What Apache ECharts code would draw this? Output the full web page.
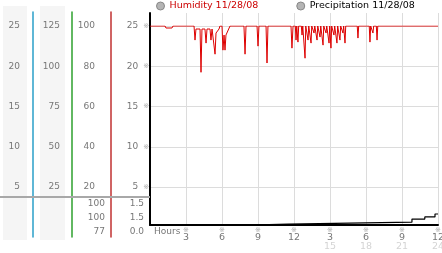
<!DOCTYPE html>
<html><head><meta charset="utf-8">
<script src="https://cdn.jsdelivr.net/npm/echarts@6/dist/echarts.min.js"></script>
<style>html,body{margin:0;padding:0;background:#fff}#c{width:442px;height:253px}</style>
</head><body><div id="c"></div>
<script>
// ---- data ----
const humHours = [0,1.25,1.33,1.83,1.92,3.67,3.75,3.83,4.17,4.25,4.33,4.58,4.67,4.75,5.0,5.08,5.17,5.33,5.42,5.5,5.75,5.83,6.0,6.08,6.17,6.25,6.33,6.67,7.83,7.92,8.0,8.92,9.0,9.08,9.67,9.75,9.83,11.75,11.83,11.92,
  12.11,12.17,12.23, 12.27,12.33,12.39, 12.61,12.67,12.73, 12.86,12.92,12.98, 13.11,13.17,13.23, 13.36,13.42,13.48, 13.61,13.67,13.73, 13.86,13.92,13.98, 14.11,14.17,14.23, 14.36,14.42,14.48, 14.61,14.67,14.73, 14.86,14.92,14.98, 15.02,15.08,15.14, 15.27,15.33,15.39, 15.52,15.58,15.64, 15.77,15.83,15.89, 16.02,16.08,16.14, 16.19,16.25,16.31,
  17.27,17.33,17.39, 18.27,18.33,18.39, 18.52,18.58,18.64, 18.86,18.92,18.98, 24];
const humValues = [100,100,99,99,100,100,93,98.5,98.5,77,98.5,98.5,91.5,98.5,98.5,93,98.5,98.5,86,96.5,98.5,100,100,88,95.5,88,95.5,100,100,86,100,100,90,100,100,81.6,100,100,89,100,
  100,93,100, 100,92,100, 100,95.5,100, 100,84,100, 100,93,100, 100,91.5,100, 100,96.5,100, 100,93,100, 100,94.5,100, 100,90.5,100, 100,96.5,100, 100,91.5,100, 100,89,100, 100,95.5,100, 100,91.5,100, 100,93,100, 100,96.5,100, 100,91.5,100,
  100,94,100, 100,92,100, 100,96.5,100, 100,93,100, 100];
const precHours  = [0, 8.33, 11.5, 21.83, 22.9, 23.75, 24];
const precValues = [0, 0.05, 0.15, 0.32, 0.43, 0.59, 0.59];
const xTicks = [3,6,9,12,15,18,21,24];
const xTop   = ['3','6','9','12','3','6','9','12'];
const xSub   = [' ',' ',' ',' ','15','18','21','24'];
const humSummary  = ['77','100','100'];   // bottom to top
const precSummary = ['0.0','1.5','1.5'];
const legendNames = ['Humidity 11/28/08','Precipitation 11/28/08'];

const F = 'DejaVu Sans';
const lab = {color:'#777', fontSize:9, fontFamily:F};
const hum = humHours.map((h,i)=>[h,humValues[i]]);
const prec = precHours.map((h,i)=>[h,precValues[i]]);
const G = {left:150, right:4, outerBoundsMode:'none', containLabel:false};
const noAx = {axisLine:{show:false}, axisTick:{show:false}, splitLine:{show:false}};
const colLine = (off,color)=>({gridIndex:3, type:'value', position:'left', min:0, max:1, offset:off,
  axisLine:{show:true, onZero:false, lineStyle:{color, width:1.5}}, axisTick:{show:false}, axisLabel:{show:false}, splitLine:{show:false}});

const chart = echarts.init(document.getElementById('c'));
chart.setOption({
  animation:false,
  backgroundColor:'#fff',
  legend:{
    top:1, left:156, padding:0, itemWidth:8, itemHeight:8, itemGap:38,
    textStyle:{fontSize:9.5, fontFamily:F},
    data:[
      {name:legendNames[0], icon:'circle', itemStyle:{color:'#b4b4b4',borderColor:'#888',borderWidth:1}, textStyle:{color:'#cc0000'}},
      {name:legendNames[1], icon:'circle', itemStyle:{color:'#b4b4b4',borderColor:'#888',borderWidth:1}, textStyle:{color:'#000'}}
    ]
  },
  graphic:[
    {type:'rect', shape:{x:3,y:6,width:24,height:234}, style:{fill:'#f5f5f5'}, z:-10},
    {type:'rect', shape:{x:40,y:6,width:25,height:234}, style:{fill:'#f5f5f5'}, z:-10},
    {type:'line', shape:{x1:0,y1:197,x2:150,y2:197}, style:{stroke:'#a8a8a8', lineWidth:2}, z:5},
    {type:'text', left:154, top:227, style:{text:'Hours', font:'9px "DejaVu Sans"', fill:'#777'}}
  ],
  grid:[
    {...G, top:26, height:161},          // 0 humidity
    {...G, top:13, bottom:28},           // 1 frame
    {...G, top:197, bottom:28},          // 2 precipitation
    {...G, top:12, bottom:16},           // 3 column lines
    {...G, top:204, height:28}           // 4 summary labels
  ],
  xAxis:[
    {gridIndex:0, type:'value', min:0, max:24, show:false},
    {gridIndex:1, type:'value', min:0, max:24, interval:3,
      axisLine:{onZero:false, lineStyle:{color:'#000', width:2}}, axisTick:{show:false},
      splitLine:{show:true, lineStyle:{color:'#dcdcdc', width:1}},
      axisLabel:{margin:2, showMinLabel:true, showMaxLabel:true,
        formatter:v=>{const i=xTicks.indexOf(v); if(i<0) return ''; return '{m|※}\n{n|'+xTop[i]+'}\n{g|'+xSub[i]+'}';},
        rich:{m:{fontSize:7,color:'#aaa',lineHeight:7,fontFamily:F}, n:{fontSize:9.5,color:'#777',lineHeight:8,fontFamily:F}, g:{fontSize:9.5,color:'#d4d4d4',lineHeight:9,fontFamily:F}}}},
    {gridIndex:2, type:'value', min:0, max:24, show:false},
    {gridIndex:3, type:'value', min:0, max:24, show:false},
    {gridIndex:4, type:'value', min:0, max:24, show:false}
  ],
  yAxis:[
    // 0: col4 scale (5-25) with grid lines
    {gridIndex:0, type:'value', position:'left', min:5, max:25, interval:5, offset:0,
      axisLine:{show:false}, axisTick:{show:false},
      splitLine:{show:true, lineStyle:{color:'#dcdcdc'}},
      axisLabel:{margin:1, formatter:v=>'{v|'+v+'}{m|※}', rich:{v:{...lab}, m:{fontSize:7,color:'#aaa',padding:[0,0,0,5],fontFamily:F}}}},
    // 1: col3 humidity (20-100)
    {gridIndex:0, type:'value', position:'left', min:20, max:100, interval:20, offset:39, ...noAx,
      axisLabel:{margin:16, ...lab}},
    // 2: col2 (25-125)
    {gridIndex:0, type:'value', position:'left', min:25, max:125, interval:25, offset:78, ...noAx,
      axisLabel:{margin:12, ...lab}},
    // 3: col1 (5-25)
    {gridIndex:0, type:'value', position:'left', min:5, max:25, interval:5, offset:117, ...noAx,
      axisLabel:{margin:13, ...lab}},
    // 4: frame axis
    {gridIndex:1, type:'value', position:'left', min:0, max:1, axisLine:{show:true, onZero:false, lineStyle:{color:'#000', width:2}},
      axisTick:{show:false}, axisLabel:{show:false}, splitLine:{show:false}},
    // 5: precipitation
    {gridIndex:2, type:'value', min:0, max:1.5, show:false},
    // 6-8: column lines
    colLine(39,'#c03030'), colLine(78,'#2ea02e'), colLine(117,'#2a9fc8'),
    // 9-10: summary labels
    {gridIndex:4, type:'category', position:'left', data:humSummary, boundaryGap:false, offset:39, ...noAx, axisLabel:{margin:6, ...lab, interval:0}},
    {gridIndex:4, type:'category', position:'left', data:precSummary, boundaryGap:false, offset:0, ...noAx, axisLabel:{margin:6, ...lab, interval:0}}
  ],
  series:[
    {name:legendNames[0], type:'line', xAxisIndex:0, yAxisIndex:1, data:hum, symbol:'none',
      lineStyle:{color:'#dd0000', width:1}, itemStyle:{color:'#dd0000'}, z:3},
    {name:legendNames[1], type:'line', xAxisIndex:2, yAxisIndex:5, data:prec, symbol:'none', step:'end',
      lineStyle:{color:'#000', width:1.2}, itemStyle:{color:'#000'}, z:3}
  ]
});
</script></body></html>
